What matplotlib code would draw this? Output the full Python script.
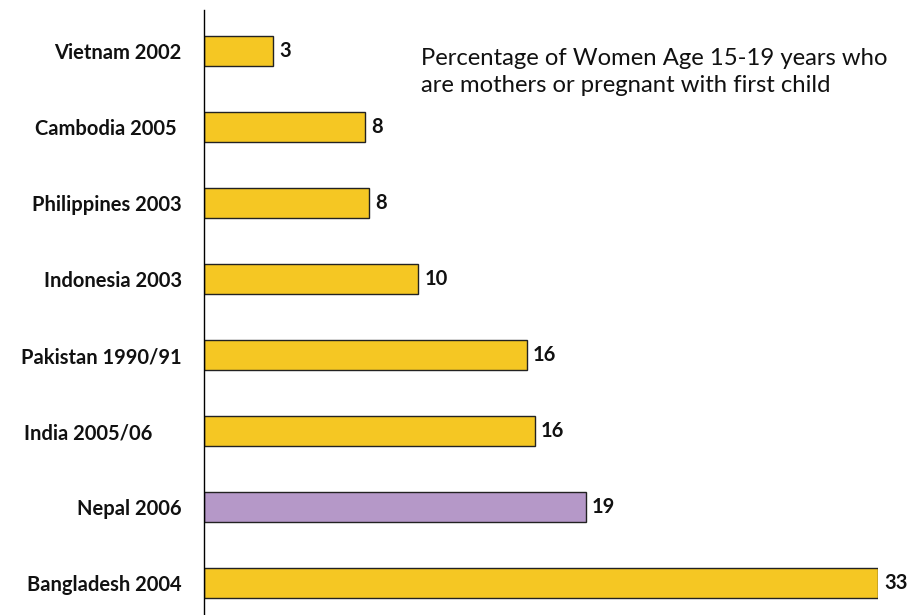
import matplotlib.pyplot as plt

countries = ['Vietnam 2002', 'Cambodia 2005 ', 'Philippines 2003', 'Indonesia 2003',
             'Pakistan 1990/91', 'India 2005/06      ', 'Nepal 2006', 'Bangladesh 2004']
values = [3.4, 7.9, 8.1, 10.5, 15.8, 16.2, 18.7, 33.0]
value_labels = ['3', '8', '8', '10', '16', '16', '19', '33']
colors = ['#F5C723'] * 6 + ['#B598C8'] + ['#F5C723']

plt.rcParams['font.family'] = ['Lato', 'DejaVu Sans']

fig = plt.figure(figsize=(9.07, 6.15), dpi=100)
ax = fig.add_axes([204 / 907, 0, 674 / 907, 605 / 615])

y = range(len(countries))
ax.barh(y, values, height=0.4, color=colors, edgecolor='#222222', linewidth=1)

for i, (v, lab) in enumerate(zip(values, value_labels)):
    ax.text(v + 0.3, i, lab, va='center', ha='left', fontsize=14.5,
            fontweight='bold', color='#111111', clip_on=False)

ax.set_xlim(0, 33)
ax.set_ylim(7.42, -0.54)
ax.set_yticks(list(y))
ax.set_yticklabels(countries, fontsize=14.5, fontweight='bold', color='#111111')
ax.tick_params(axis='y', length=0, pad=16)
ax.set_xticks([])
for s in ['top', 'right', 'bottom']:
    ax.spines[s].set_visible(False)
ax.spines['left'].set_linewidth(1)

fig.text(421 / 907, 1 - 72 / 615,
         'Percentage of Women Age 15-19 years who\nare mothers or pregnant with first child',
         fontsize=17.2, color='#111111', va='center', ha='left', linespacing=1.35)

fig.savefig('out.png', dpi=100)
